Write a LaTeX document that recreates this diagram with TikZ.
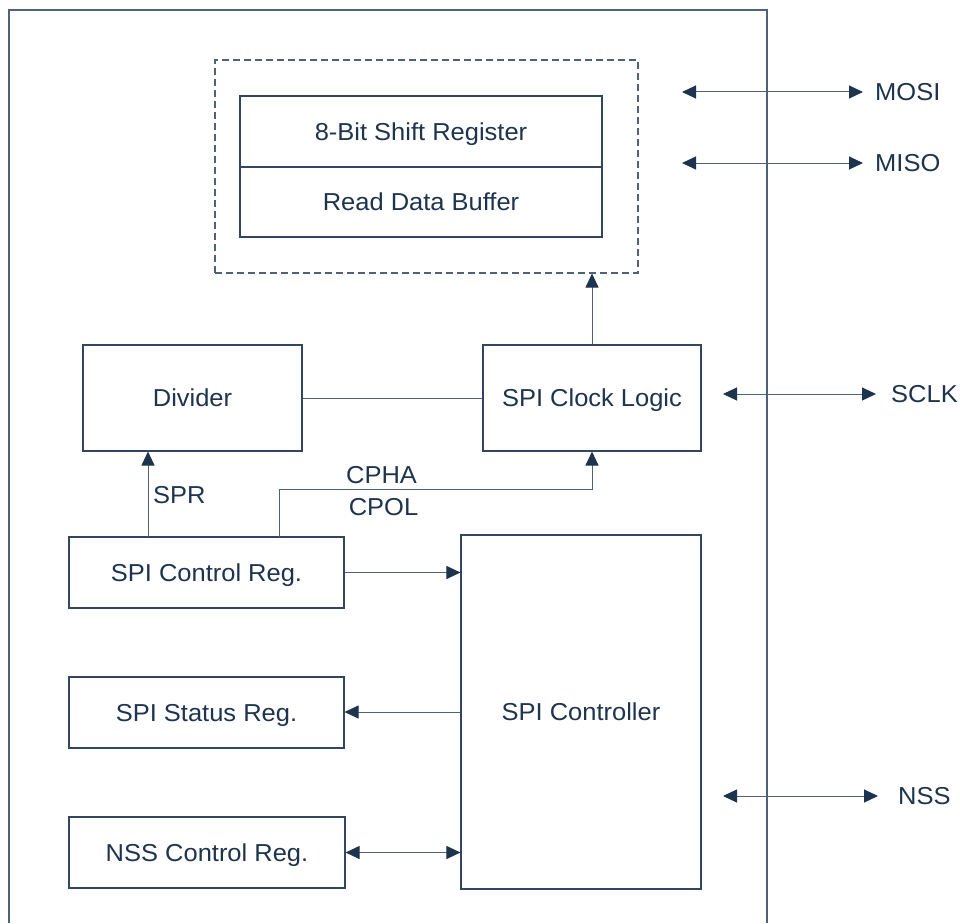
\documentclass[tikz,border=0pt]{standalone}
\usepackage{fontspec}
\setmainfont[FakeStretch=1.04]{Liberation Sans}
\usetikzlibrary{arrows.meta,calc}
\definecolor{txtc}{RGB}{30,52,78}
\definecolor{linec}{RGB}{78,98,120}
\definecolor{boxc}{RGB}{50,70,95}
\begin{document}
\begin{tikzpicture}[x=1pt,y=-1pt,
  font=\fontsize{24.5}{28}\selectfont,
  every node/.style={text=txtc},
  blk/.style={draw=boxc,line width=1.1pt,inner sep=0pt,fill=none,text depth=0pt},
  conn/.style={draw=linec,line width=1pt},
  tip/.style={-{Triangle[length=14pt,width=13pt,color=txtc]}},
  bitip/.style={{Triangle[length=14pt,width=13pt,color=txtc]}-{Triangle[length=14pt,width=13pt,color=txtc]}},
  lbl/.style={inner sep=0pt,anchor=west}]
\useasboundingbox (0,0) rectangle (960,923);
% outer frame
\draw[linec,line width=1.1pt] (9,923) -- (9,10) -- (767,10) -- (767,923);
% dashed group
\node[blk,dashed,dash pattern=on 7pt off 4pt,draw=linec,minimum width=423pt,minimum height=213pt] (grp) at (426.5,166.5) {};
\node[blk,minimum width=362pt,minimum height=71pt] (sr) at (421,131.5) {8-Bit Shift Register};
\node[blk,minimum width=362pt,minimum height=70pt] (rdb) at (421,202) {Read Data Buffer};
% middle blocks
\node[blk,minimum width=219pt,minimum height=106pt] (div) at (192.5,398) {Divider};
\node[blk,minimum width=218pt,minimum height=106pt] (clk) at (592,398) {SPI Clock Logic};
% registers
\node[blk,minimum width=275pt,minimum height=71pt] (ctl) at (206.5,572.5) {SPI Control Reg.};
\node[blk,minimum width=275pt,minimum height=71pt] (sta) at (206.5,712.5) {SPI Status Reg.};
\node[blk,minimum width=276pt,minimum height=71pt] (nssr) at (207,852.5) {NSS Control Reg.};
\node[blk,minimum width=240pt,minimum height=354pt] (ctrl) at (581,712) {SPI Controller};
% internal connectors
\draw[conn] (div.east) -- (clk.west);
\draw[conn,tip] (clk.north) -- (clk.north |- grp.south);
\coordinate (sprb) at (148,537);
\draw[conn,tip] (sprb) -- (sprb |- div.south);
\node[lbl] (spr) at (153,495) {SPR};
\coordinate (cpb) at (279,537);
\coordinate (cpk) at (279,489);
\draw[conn,tip] (cpb) -- (cpk) -| (clk.south);
\node[inner sep=0pt] (cpha) at (381.5,475) {CPHA};
\node[inner sep=0pt] (cpol) at (383.5,507) {CPOL};
\draw[conn,tip] (ctl.east) -- (ctl.east -| ctrl.west);
\draw[conn,tip] (ctrl.west) -- (ctrl.west -| sta.east);
\draw[conn,bitip] (nssr.east) -- (nssr.east -| ctrl.west);
% external signals
\node[lbl] (mosi) at (875,92) {MOSI};
\node[lbl] (miso) at (875,163) {MISO};
\node[lbl] (sclk) at (891,394) {SCLK};
\node[lbl] (nss) at (898,796) {NSS};
\coordinate (mosiL) at (682,92);
\coordinate (misoL) at (682,163);
\coordinate (sclkL) at (723,394);
\coordinate (nssL) at (723,796);
\draw[conn,bitip] (mosiL) -- ($(mosi.west)+(-12,0)$);
\draw[conn,bitip] (misoL) -- ($(miso.west)+(-12,0)$);
\draw[conn,bitip] (sclkL) -- ($(sclk.west)+(-15,0)$);
\draw[conn,bitip] (nssL) -- ($(nss.west)+(-20,0)$);
\end{tikzpicture}
\end{document}
